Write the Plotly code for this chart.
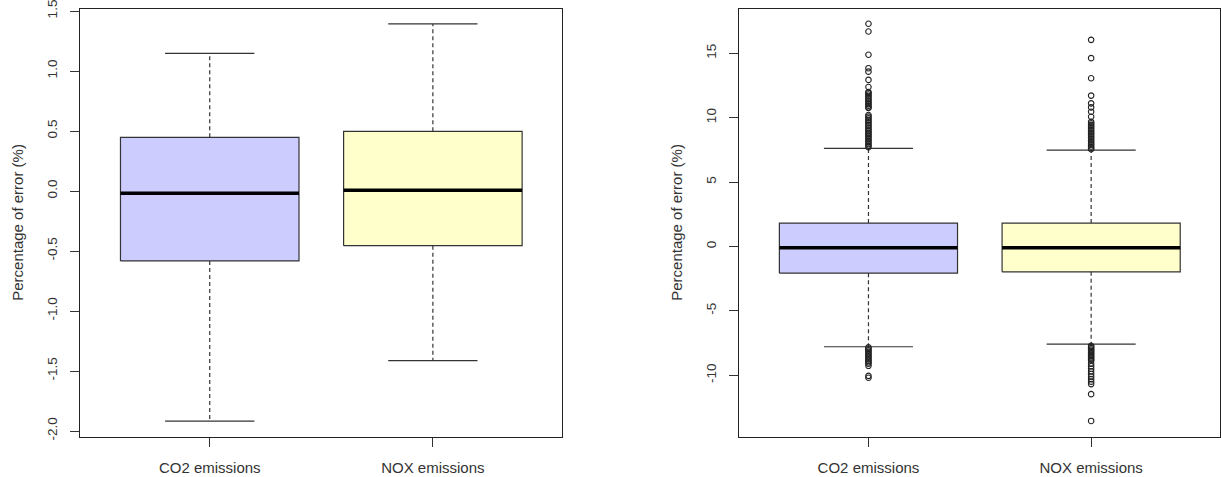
import plotly.graph_objects as go

# ---------------- data ----------------
categories = ["CO2 emissions", "NOX emissions"]
fill_colors = ["#CCCCFF", "#FFFFCC"]

# left panel (five-number summaries, %)
left_lower = [-1.917, -1.414]
left_q1 = [-0.583, -0.456]
left_median = [-0.019, 0.006]
left_q3 = [0.447, 0.497]
left_upper = [1.147, 1.392]

# right panel (five-number summaries, %)
right_lower = [-7.79, -7.58]
right_q1 = [-2.08, -1.97]
right_median = [-0.10, -0.10]
right_q3 = [1.81, 1.81]
right_upper = [7.61, 7.48]

# right panel outliers
co2_outliers = [17.29, 16.69, 14.88, 13.84, 13.57, 12.93, 12.38, 11.99, 11.92, 11.80,
                11.68, 11.55, 11.43, 11.30, 11.18, 11.05, 10.93, 10.80, 10.75, 10.20,
                10.08, 9.95, 9.83, 9.70, 9.58, 9.45, 9.33, 9.20, 9.08, 8.95, 8.83,
                8.70, 8.58, 8.45, 8.33, 8.20, 8.08, 7.95, 7.83, 7.71,
                -7.84, -7.95, -8.07, -8.18, -8.30, -8.41, -8.53, -8.64, -8.76,
                -8.87, -8.99, -9.10, -9.27, -10.05, -10.20]
nox_outliers = [16.04, 14.62, 13.06, 11.71, 11.11, 10.80, 10.46, 10.07, 9.68, 9.56,
                9.44, 9.32, 9.20, 9.08, 8.96, 8.84, 8.72, 8.60, 8.48, 8.36, 8.24,
                8.12, 8.00, 7.88, 7.76, 7.64, 7.55,
                -7.71, -7.80, -7.90, -8.00, -8.10, -8.20, -8.30, -8.40, -8.50,
                -8.60, -8.70, -8.80, -8.88, -9.10, -9.30, -9.50, -9.70, -9.90,
                -10.10, -10.30, -10.50, -10.69, -11.47, -13.55]

y_ticks_left = [-2.0, -1.5, -1.0, -0.5, 0.0, 0.5, 1.0, 1.5]
y_ticks_right = [-10, -5, 0, 5, 10, 15]
y_title = "Percentage of error (%)"

# ---------------- drawing ----------------
W, H = 1221, 477
BOX_HALF = 0.4
CAP_HALF = 0.2
EDGE = "#333333"
FONT = "Liberation Sans, Arial, sans-serif"

fig = go.Figure()


def add_boxes(lower, q1, med, q3, upper, xa, ya):
    for i, _ in enumerate(categories):
        pos = i + 1
        x0, x1 = pos - BOX_HALF, pos + BOX_HALF
        # box body
        fig.add_trace(go.Scatter(
            x=[x0, x1, x1, x0, x0], y=[q1[i], q1[i], q3[i], q3[i], q1[i]],
            mode="lines", fill="toself", fillcolor=fill_colors[i],
            line=dict(color=EDGE, width=1.2), xaxis=xa, yaxis=ya,
            hoverinfo="skip", showlegend=False))
        # whiskers (dashed)
        for a, b in [(q3[i], upper[i]), (q1[i], lower[i])]:
            fig.add_trace(go.Scatter(
                x=[pos, pos], y=[a, b], mode="lines",
                line=dict(color=EDGE, width=1.2, dash="4px,3px"),
                xaxis=xa, yaxis=ya, hoverinfo="skip", showlegend=False))
        # caps
        for v in [upper[i], lower[i]]:
            fig.add_trace(go.Scatter(
                x=[pos - CAP_HALF, pos + CAP_HALF], y=[v, v], mode="lines",
                line=dict(color=EDGE, width=1.2),
                xaxis=xa, yaxis=ya, hoverinfo="skip", showlegend=False))
        # median
        fig.add_trace(go.Scatter(
            x=[x0, x1], y=[med[i], med[i]], mode="lines",
            line=dict(color="black", width=3.5),
            xaxis=xa, yaxis=ya, hoverinfo="skip", showlegend=False))


add_boxes(left_lower, left_q1, left_median, left_q3, left_upper, "x", "y")
add_boxes(right_lower, right_q1, right_median, right_q3, right_upper, "x2", "y2")

for i, outs in enumerate([co2_outliers, nox_outliers]):
    fig.add_trace(go.Scatter(
        x=[i + 1] * len(outs), y=outs, mode="markers",
        marker=dict(symbol="circle-open", size=5.5, color="#222222",
                    line=dict(width=1.1, color="#222222")),
        xaxis="x2", yaxis="y2", hoverinfo="skip", showlegend=False))

ydom = [1 - 436.7 / H, 1 - 9 / H]
xdom_left = [80.3 / W, 562.3 / W]
xdom_right = [739.3 / W, 1220.3 / W]

tickfont = dict(family=FONT, size=13.5, color="#333333")
xtickfont = dict(family=FONT, size=15, color="#333333")

common_x = dict(range=[0.42, 2.58], tickmode="array", tickvals=[1, 2],
                ticktext=categories, ticks="outside", ticklen=9,
                tickcolor="#333333", showline=True, mirror=True,
                linecolor="#222222", linewidth=1, showgrid=False,
                zeroline=False, tickfont=xtickfont, ticklabelstandoff=8,
                automargin=False, fixedrange=True)
common_y = dict(ticks="outside", ticklen=9, tickcolor="#333333",
                showline=True, mirror=True, linecolor="#222222", linewidth=1,
                showgrid=False, zeroline=False, tickfont=tickfont,
                tickangle=-90, ticklabelstandoff=8, automargin=False,
                ticklabeloverflow="allow",
                domain=ydom, fixedrange=True)

fig.update_layout(
    width=W, height=H, template="none",
    paper_bgcolor="white", plot_bgcolor="white",
    margin=dict(l=0, r=0, t=0, b=0),
    showlegend=False,
    xaxis=dict(domain=xdom_left, anchor="y", **common_x),
    xaxis2=dict(domain=xdom_right, anchor="y2", **common_x),
    yaxis=dict(anchor="x", range=[-2.0475, 1.5167], tickmode="array",
               tickvals=y_ticks_left,
               ticktext=[f"{v:.1f}" for v in y_ticks_left], **common_y),
    yaxis2=dict(anchor="x2", range=[-14.774, 18.435], tickmode="array",
                tickvals=y_ticks_right,
                ticktext=[str(v) for v in y_ticks_right], **common_y),
    annotations=[
        dict(text=y_title, xref="paper", yref="paper", x=18 / W,
             y=1 - 222.8 / H,
             xanchor="center", yanchor="middle", textangle=-90, showarrow=False,
             font=dict(family=FONT, size=15, color="#333333")),
        dict(text=y_title, xref="paper", yref="paper", x=677 / W,
             y=1 - 222.8 / H,
             xanchor="center", yanchor="middle", textangle=-90, showarrow=False,
             font=dict(family=FONT, size=15, color="#333333")),
    ],
)

# remove the default page margin so the 1221x477 figure fills the window
fig.write_html("out.html",
               config={"displayModeBar": False},
               post_script="document.body.style.margin='0px';"
                           "document.body.style.overflow='hidden';")
